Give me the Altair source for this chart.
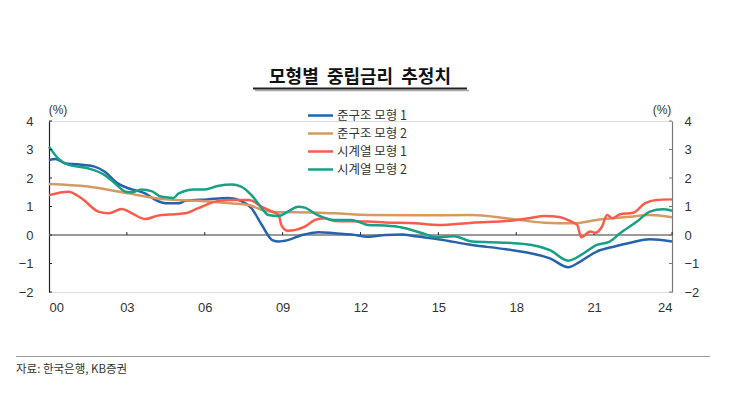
import altair as alt
import pandas as pd

# ---------------- data ----------------
series_names = ["준구조 모형 1", "준구조 모형 2", "시계열 모형 1", "시계열 모형 2"]
series_colors = ["#2563ad", "#d49a62", "#fb5b4b", "#17a085"]

blue_t = [0, 0.25, 0.6, 1.1, 1.75, 2.15, 2.65, 3.05, 3.7, 4.1, 4.5, 5.0, 5.25, 6.1, 6.9, 7.4, 7.8,
          8.2, 8.6, 8.85, 9.2, 9.75, 10.4, 11.0, 11.65, 12.3, 12.95, 13.6, 14.1, 15.0, 16.3, 17.6,
          18.55, 19.3, 20.0, 20.45, 21.1, 21.75, 22.4, 23.15, 24.0]
blue_v = [2.63, 2.67, 2.52, 2.48, 2.40, 2.22, 1.81, 1.64, 1.46, 1.23, 1.11, 1.11, 1.20, 1.25, 1.30,
          1.20, 0.94, 0.35, -0.18, -0.23, -0.18, 0.0, 0.10, 0.06, 0.02, -0.06, 0.0, 0.02, -0.04,
          -0.15, -0.35, -0.50, -0.64, -0.82, -1.13, -0.94, -0.58, -0.41, -0.27, -0.15, -0.23]

tan_t = [0, 1.5, 3.05, 4.5, 5.75, 7.0, 7.7, 8.3, 8.85, 9.5, 11.0, 12.3, 14.1, 16.3, 17.6, 19.1,
         20.2, 21.1, 22.4, 23.15, 24]
tan_v = [1.79, 1.70, 1.46, 1.25, 1.20, 1.11, 1.05, 0.85, 0.80, 0.80, 0.76, 0.70, 0.69, 0.70, 0.59,
         0.43, 0.41, 0.53, 0.64, 0.70, 0.62]

red_t = [0, 0.75, 1.25, 1.9, 2.3, 2.8, 3.2, 3.7, 4.2, 4.85, 5.25, 5.75, 6.4, 6.9, 7.7, 8.2, 8.6,
         8.85, 8.95, 9.2, 9.5, 9.85, 10.25, 10.6, 11.0, 12.3, 12.95, 14.1, 15.0, 16.3, 17.8, 18.5,
         19.1, 19.7, 20.05, 20.35, 20.5, 20.85, 21.05, 21.3, 21.5, 21.7, 22.0, 22.5, 22.95, 23.4, 24]
red_v = [1.40, 1.52, 1.29, 0.82, 0.76, 0.91, 0.76, 0.56, 0.68, 0.73, 0.76, 0.94, 1.17, 1.23, 1.23,
         0.99, 0.82, 0.70, 0.35, 0.15, 0.18, 0.29, 0.53, 0.59, 0.49, 0.47, 0.44, 0.41, 0.35, 0.43,
         0.50, 0.59, 0.67, 0.62, 0.50, 0.35, -0.08, 0.12, 0.08, 0.29, 0.70, 0.59, 0.73, 0.78, 1.11,
         1.23, 1.25]

green_t = [0, 0.35, 0.75, 1.5, 2.15, 2.55, 2.95, 3.2, 3.55, 3.95, 4.3, 4.65, 4.8, 5.0, 5.6, 6.0,
           6.5, 7.05, 7.4, 7.8, 8.2, 8.45, 8.85, 9.2, 9.6, 9.85, 10.35, 11.0, 11.65, 12.3, 12.95,
           13.6, 14.1, 14.4, 14.9, 15.6, 16.3, 17.6, 18.6, 19.3, 20.0, 20.6, 21.1, 21.6, 22.0,
           22.65, 23.15, 23.65, 24]
green_v = [3.10, 2.69, 2.46, 2.34, 2.10, 1.81, 1.52, 1.50, 1.60, 1.54, 1.35, 1.31, 1.30, 1.46, 1.60,
           1.60, 1.72, 1.77, 1.70, 1.40, 0.94, 0.70, 0.67, 0.82, 0.99, 0.96, 0.70, 0.53, 0.53, 0.35,
           0.33, 0.26, 0.14, 0.06, -0.08, -0.04, -0.23, -0.27, -0.35, -0.53, -0.90, -0.64, -0.35,
           -0.23, 0.06, 0.47, 0.82, 0.90, 0.85]

x_ticks = [0, 3, 6, 9, 12, 15, 18, 21, 24]
y_ticks = [-2, -1, 0, 1, 2, 3, 4]

title_text = "모형별\u00a0\u00a0중립금리\u00a0\u00a0추정치"
unit_text = "(%)"
source_text = "자료: 한국은행, KB증권"

# ---------------- build ----------------
rows = []
for name, ts, vs in zip(series_names, [blue_t, tan_t, red_t, green_t],
                        [blue_v, tan_v, red_v, green_v]):
    rows += [{"t": t, "v": v, "s": name} for t, v in zip(ts, vs)]
df = pd.DataFrame(rows)

W, H = 623, 171
x_scale = alt.Scale(domain=[0, 24], nice=False, zero=False)
y_scale = alt.Scale(domain=[-2, 4], nice=False, zero=False)
num_font = "Liberation Sans"
kr_font = "Noto Sans CJK KR"
one = pd.DataFrame({"a": [0]})

x_axis = alt.Axis(values=x_ticks, title=None, domain=False, ticks=False, grid=False,
                  labelExpr="datum.value < 10 ? '0' + datum.value : '' + datum.value",
                  labelPadding=9, labelFontSize=13, labelColor="#333", labelFont=num_font)

zero_line = alt.Chart(one).mark_rule(color="#9a9a9a", strokeWidth=2).encode(
    y=alt.Y("a:Q", scale=y_scale, axis=None)
)

xtick_df = pd.DataFrame({"t": x_ticks[1:], "y0": [0] * 8, "y1": [0.1] * 8})
x_tick_marks = alt.Chart(xtick_df).mark_rule(color="#222", strokeWidth=1).encode(
    x=alt.X("t:Q", scale=x_scale, axis=x_axis),
    y=alt.Y("y0:Q", scale=y_scale, axis=None),
    y2="y1:Q",
)

lines = alt.Chart(df).mark_line(strokeWidth=2.5, interpolate="monotone").encode(
    x=alt.X("t:Q", scale=x_scale, axis=x_axis),
    y=alt.Y("v:Q", scale=y_scale,
            axis=alt.Axis(orient="left", values=y_ticks, title=None, grid=False, ticks=False,
                          domainColor="#222", domainWidth=1.2, labelPadding=16, labelFontSize=13,
                          labelColor="#333", labelFont=num_font, format="d")),
    color=alt.Color("s:N", scale=alt.Scale(domain=series_names, range=series_colors),
                    legend=alt.Legend(orient="none", legendX=265, legendY=-12, title=None,
                                      symbolType="M-2.5,0H2.5", symbolSize=100,
                                      symbolStrokeWidth=2.5, labelFontSize=12.5, labelFont=kr_font,
                                      labelColor="#333", labelOffset=10, rowPadding=5, padding=0)),
)

ytick_df = pd.DataFrame({"v": y_ticks})
left_ticks = alt.Chart(ytick_df).mark_rule(color="#222", strokeWidth=1).encode(
    y=alt.Y("v:Q", scale=y_scale, axis=None), x=alt.value(0), x2=alt.value(3)
)
right_ticks = alt.Chart(ytick_df).mark_rule(color="#777", strokeWidth=1).encode(
    y=alt.Y("v:Q", scale=y_scale,
            axis=alt.Axis(orient="right", values=y_ticks, title=None, grid=False, ticks=False,
                          domainColor="#777", domainWidth=1.2, labelPadding=12, labelFontSize=13,
                          labelColor="#333", labelFont=num_font, format="d")),
    x=alt.value(W - 3), x2=alt.value(W),
)

title = alt.Chart(one).mark_text(text=title_text, fontSize=18, fontWeight="bold", font=kr_font,
                                 color="#111", align="center", baseline="middle").encode(
    x=alt.value(311), y=alt.value(-43.5))
underline = alt.Chart(one).mark_rule(color="#222", strokeWidth=2).encode(
    x=alt.value(204), x2=alt.value(418), y=alt.value(-32.5))
underline_sh = alt.Chart(one).mark_rule(color="#aaa", strokeWidth=1.5).encode(
    x=alt.value(206), x2=alt.value(420), y=alt.value(-30.5))
unit_l = alt.Chart(one).mark_text(text=unit_text, fontSize=12, font=num_font, color="#333",
                                  align="center", baseline="middle").encode(
    x=alt.value(9), y=alt.value(-11))
unit_r = alt.Chart(one).mark_text(text=unit_text, fontSize=12, font=num_font, color="#333",
                                  align="center", baseline="middle").encode(
    x=alt.value(613), y=alt.value(-11))
src_line = alt.Chart(one).mark_rule(color="#999", strokeWidth=1).encode(
    x=alt.value(-33), x2=alt.value(661), y=alt.value(235.5))
src_text = alt.Chart(one).mark_text(text=source_text, fontSize=11.5, font=kr_font, color="#333",
                                    align="left", baseline="middle").encode(
    x=alt.value(-33), y=alt.value(249))

chart = alt.layer(
    zero_line, x_tick_marks, lines, left_ticks, right_ticks,
    title, underline_sh, underline, unit_l, unit_r, src_line, src_text
).resolve_axis(y="independent").properties(
    width=W, height=H,
    autosize=alt.AutoSizeParams(type="none"),
    padding={"left": 41, "top": 113, "right": 65, "bottom": 96},
).configure_view(stroke=None).configure(background="white")

chart.save("out.html", embed_options={"renderer": "svg", "actions": False})
